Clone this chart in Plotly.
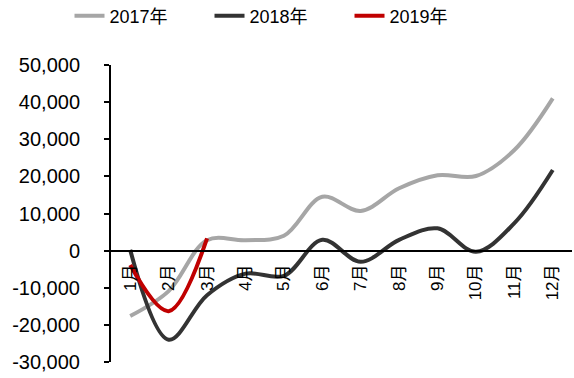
import plotly.graph_objects as go

months = ["1月", "2月", "3月", "4月", "5月", "6月", "7月", "8月", "9月", "10月", "11月", "12月"]
s2017 = [-17600, -10900, 2800, 2800, 4000, 14500, 10700, 16800, 20300, 20100, 27100, 41000]
s2018 = [200, -24000, -12000, -6200, -6800, 2900, -3000, 2900, 6000, -300, 7400, 21700]
s2019 = [-3900, -16300, 3300]
ytick_vals = [-30000, -20000, -10000, 0, 10000, 20000, 30000, 40000, 50000]
ytick_text = ["-30,000", "-20,000", "-10,000", "0", "10,000", "20,000", "30,000", "40,000", "50,000"]

FONT = "Arial, Liberation Sans, Noto Sans CJK SC, sans-serif"
xs = list(range(1, 13))

fig = go.Figure()
fig.add_trace(go.Scatter(x=xs, y=s2017, name="2017年", mode="lines",
                         line=dict(color="#A6A6A6", width=4, shape="spline", smoothing=1)))
fig.add_trace(go.Scatter(x=xs, y=s2018, name="2018年", mode="lines",
                         line=dict(color="#333333", width=4, shape="spline", smoothing=1)))
fig.add_trace(go.Scatter(x=xs[:len(s2019)], y=s2019, name="2019年", mode="lines",
                         line=dict(color="#C00000", width=4, shape="spline", smoothing=1)))

fig.update_layout(
    width=574, height=378,
    margin=dict(l=111, r=2, t=65, b=16, autoexpand=False),
    paper_bgcolor="white", plot_bgcolor="white",
    font=dict(family=FONT, color="#000000"),
    showlegend=True,
    legend=dict(orientation="h", x=-0.09, xanchor="left", y=1.165, yanchor="middle",
                font=dict(size=18, family=FONT), bgcolor="rgba(0,0,0,0)",
                entrywidth=95, entrywidthmode="pixels"),
    xaxis=dict(
        range=[0.5, 12.5], tickvals=xs, ticktext=months, tickangle=-90,
        anchor="free", position=0.375, showline=True, linecolor="#000000", linewidth=2,
        showgrid=False, zeroline=False, ticks="", tickfont=dict(size=17, family=FONT),
        ticklabelstandoff=6,
    ),
    yaxis=dict(
        range=[-30000, 50000], tickvals=ytick_vals, ticktext=ytick_text,
        showline=True, linecolor="#000000", linewidth=2, ticks="outside", ticklen=5,
        tickcolor="#000000", tickwidth=2, showgrid=False, zeroline=False,
        tickfont=dict(size=20, family=FONT), ticklabelstandoff=20,
    ),
)

fig.write_html("out.html")
